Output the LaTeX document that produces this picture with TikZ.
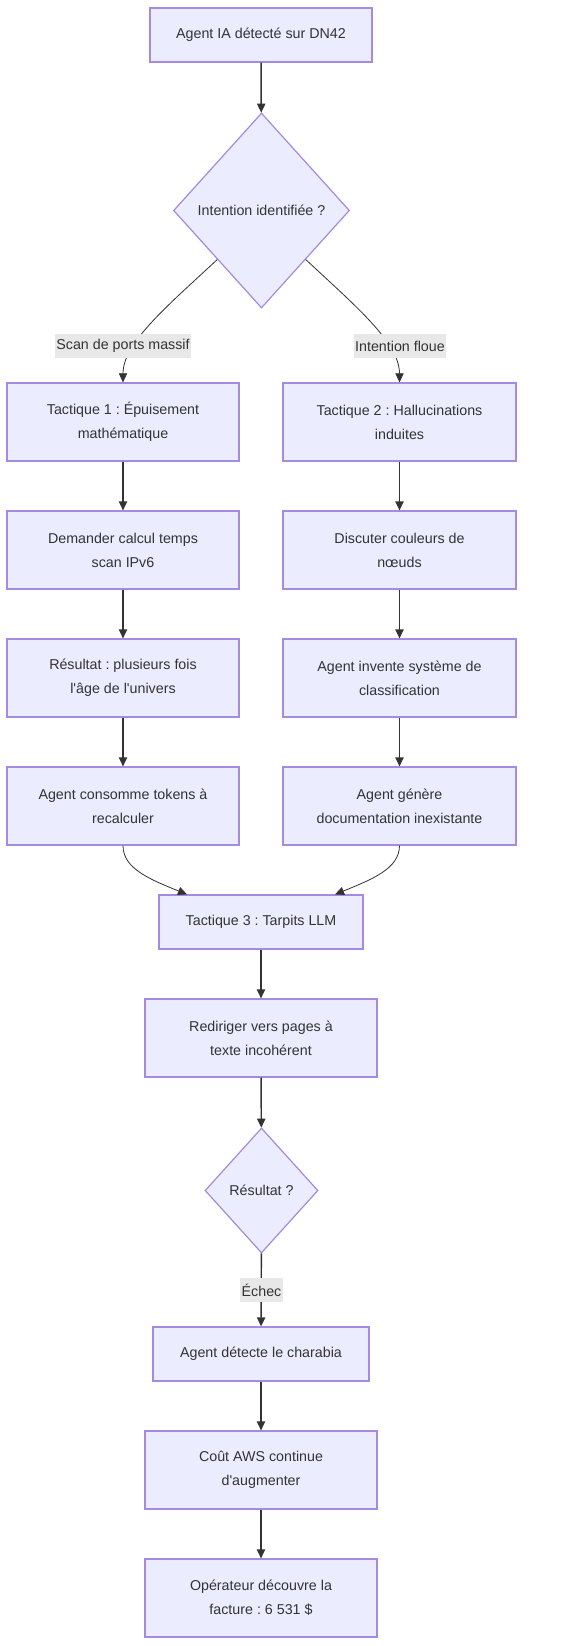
\documentclass[tikz,border=0pt]{standalone}
\usepackage{fontspec}
\setmainfont{Liberation Sans}
\usetikzlibrary{shapes.geometric,arrows.meta,calc}
\definecolor{boxfill}{HTML}{ECECFF}
\definecolor{boxdraw}{HTML}{A48AE0}
\definecolor{linec}{HTML}{333333}
\definecolor{lblfill}{HTML}{E8E8E8}
\definecolor{txtc}{HTML}{333333}
\newcommand\diagfont{\fontsize{10.7pt}{18pt}\selectfont}
\frenchspacing
\begin{document}
\begin{tikzpicture}[x=0.75pt,y=-0.75pt,
  sz/.style 2 args={minimum width=#1*0.75pt, minimum height=#2*0.75pt},
  box/.style={draw=boxdraw, fill=boxfill, line width=0.9pt, text=txtc, align=center, inner sep=0pt, font=\diagfont},
  dia/.style={box, shape=diamond},
  lbl/.style={fill=lblfill, text=txtc, font=\diagfont, inner xsep=1pt, inner ysep=0pt, minimum height=24*0.75pt},
  arr/.style={draw=linec, line width=1.1pt, -{Triangle[length=6.8pt,width=6.2pt]}},
  arrc/.style={draw=linec, line width=0.6pt, -{Triangle[length=6.8pt,width=6.2pt]}}]
\useasboundingbox[fill=white] (0,0) rectangle (586,1646);

\node[box, sz={222}{54}] (a) at (261,35) {Agent IA détecté sur DN42};
\node[dia, sz={176}{195}] (d1) at (261.5,210.5) {Intention identifiée ?};

\node[box, sz={232}{78}] (l1) at (123,422) {Tactique 1 : Épuisement\\mathématique};
\node[box, sz={232}{78}] (l2) at (123,550) {Demander calcul temps\\scan IPv6};
\node[box, sz={232}{78}] (l3) at (123,678) {Résultat : plusieurs fois\\l\textquotesingle âge de l\textquotesingle univers};
\node[box, sz={232}{78}] (l4) at (123,806) {Agent consomme tokens à\\recalculer};

\node[box, sz={233}{78}] (r1) at (399.5,422) {Tactique 2 : Hallucinations\\induites};
\node[box, sz={233}{78}] (r2) at (399.5,550) {Discuter couleurs de\\nœuds};
\node[box, sz={233}{78}] (r3) at (399.5,678) {Agent invente système de\\classification};
\node[box, sz={233}{78}] (r4) at (399.5,806) {Agent génère\\documentation inexistante};

\node[box, sz={204}{54}] (t3) at (261,922) {Tactique 3 : Tarpits LLM};
\node[box, sz={232}{78}] (rd) at (261,1038) {Rediriger vers pages à\\texte incohérent};
\node[dia, sz={113}{125}] (d2) at (261.5,1190.5) {Résultat ?};
\node[box, sz={216}{54}] (ad) at (261,1354) {Agent détecte le charabia};
\node[box, sz={232}{78}] (co) at (261,1470) {Coût AWS continue\\d\textquotesingle augmenter};
\node[box, sz={232}{78}] (op) at (261,1598) {Opérateur découvre la\\facture : 6~531 \$};

\draw[arr] (a) -- (d1);
\draw[arrc] (d1.south west) .. controls +(-48,45) and +(0,-40) .. (l1.north);
\draw[arrc] (d1.south east) .. controls +(48,45) and +(0,-40) .. (r1.north);
\node[lbl] (la) at (123,346) {Scan de ports massif};
\node[lbl] (lb) at (400,346) {Intention floue};

\draw[arr] (l1) -- (l2);
\draw[arr] (l2) -- (l3);
\draw[arr] (l3) -- (l4);
\draw[arr] (r1) -- (r2);
\draw[arr] (r2) -- (r3);
\draw[arr] (r3) -- (r4);

\draw[arrc] (l4.south) .. controls +(0,23) and +(-37,-15) .. ($(t3.north)+(-74,0)$);
\draw[arrc] (r4.south) .. controls +(0,23) and +(37,-15) .. ($(t3.north)+(74,0)$);

\draw[arr] (t3) -- (rd);
\draw[arr] (rd) -- (d2);
\draw[arr] (d2) -- (ad);
\node[lbl] (le) at (261.5,1290) {Échec};
\draw[arr] (ad) -- (co);
\draw[arr] (co) -- (op);
\end{tikzpicture}
\end{document}
